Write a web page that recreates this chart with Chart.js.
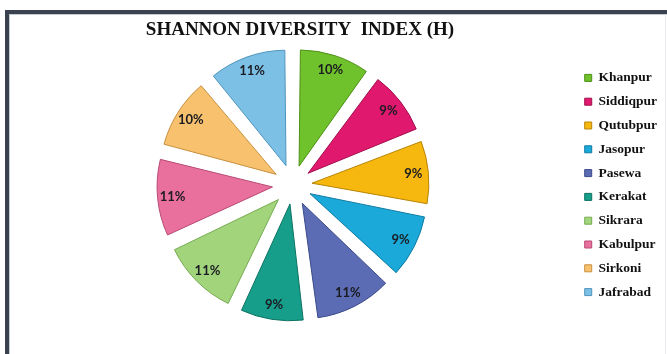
<!DOCTYPE html>
<html><head><meta charset="utf-8">
<script src="https://cdn.jsdelivr.net/npm/chart.js@4.4.0/dist/chart.umd.min.js"></script>
<style>
html,body{margin:0;padding:0;background:#fff;width:667px;height:354px;overflow:hidden;}
#frame{position:absolute;left:5px;top:10px;width:700px;height:400px;border-top:4px solid #3a4250;border-left:4px solid #3a4250;box-sizing:border-box;box-shadow:inset 1px 1px 0 #c3cad2;}
#rline{position:absolute;left:665px;top:14px;width:1px;height:340px;background:#e6e9ed;}
#wrap{position:absolute;left:0;top:0;width:667px;height:354px;}
</style></head>
<body>
<div id="frame"></div><div id="rline"></div>
<div id="wrap"><canvas id="c" width="667" height="354"></canvas></div>
<script>
const categories = ["Khanpur","Siddiqpur","Qutubpur","Jasopur","Pasewa","Kerakat","Sikrara","Kabulpur","Sirkoni","Jafrabad"];
const shareValues = [10, 9, 9, 9, 11, 9, 11, 11, 10, 11];
const titleText = "SHANNON DIVERSITY  INDEX (H)";
const fillColors = ["#6fc22b","#e0196e","#f6b70f","#1ba9d9","#5b6cb5","#169e8a","#a2d47c","#e9709d","#f7c16e","#7cc0e6"];
const edgeColors = ["#4d8f17","#a30e4d","#b88505","#0f7ba3","#3c4a8a","#0d7263","#76ab52","#b84a75","#c8903f","#4f94bd"];

const EXPLODE = 28; // desired outward shift of each slice, px

// Chart.js shifts an arc by offset/4 * (2 - sin(circumference)); invert that so every slice moves EXPLODE px
function arcOffset(ctx) {
  const data = ctx.chart.data.datasets[0].data;
  const total = data.reduce((a, b) => a + b, 0);
  const circ = data[ctx.dataIndex] / total * Math.PI * 2;
  return EXPLODE * 4 / (2 - Math.sin(Math.min(Math.PI, circ)));
}

const pctLabels = {
  id: 'pctLabels',
  afterLayout(chart) {
    if (chart.titleBlock) { chart.titleBlock.left += 7; chart.titleBlock.right += 7; }
  },
  afterDatasetsDraw(chart) {
    const ctx = chart.ctx;
    const meta = chart.getDatasetMeta(0);
    const data = chart.data.datasets[0].data;
    const total = data.reduce((a, b) => a + b, 0);
    ctx.save();
    ctx.font = "bold 13px Lato";
    ctx.fillStyle = "#1b1b22";
    ctx.textAlign = "center";
    ctx.textBaseline = "middle";
    meta.data.forEach((arc, i) => {
      const p = arc.getProps(['x','y','startAngle','endAngle','outerRadius']);
      const mid = (p.startAngle + p.endAngle) / 2;
      const r = EXPLODE + p.outerRadius * 0.86;
      ctx.fillText(Math.round(data[i] / total * 100) + '%', p.x + Math.cos(mid) * r, p.y + Math.sin(mid) * r);
    });
    ctx.restore();
  }
};

new Chart(document.getElementById('c'), {
  type: 'pie',
  data: {
    labels: categories,
    datasets: [{
      data: shareValues,
      backgroundColor: fillColors,
      borderColor: edgeColors,
      borderWidth: 1,
      offset: arcOffset,
      hoverOffset: 0
    }]
  },
  options: {
    responsive: false,
    animation: false,
    radius: 108,
    layout: { padding: { left: 11.5, right: 0, top: 10, bottom: 25.8 } },
    plugins: {
      tooltip: { enabled: false },
      title: {
        display: true,
        text: titleText,
        fullSize: false,
        color: '#111',
        font: { family: 'Liberation Serif', size: 19, weight: 'bold' },
        padding: { top: 9, bottom: 0 }
      },
      legend: {
        position: 'right',
        fullSize: false,
        labels: {
          boxWidth: 7,
          boxHeight: 7,
          padding: 10.3,
          color: '#111',
          font: { family: 'Liberation Serif', size: 13.5, weight: 'bold' }
        }
      }
    }
  },
  plugins: [pctLabels]
});
</script>
</body></html>
